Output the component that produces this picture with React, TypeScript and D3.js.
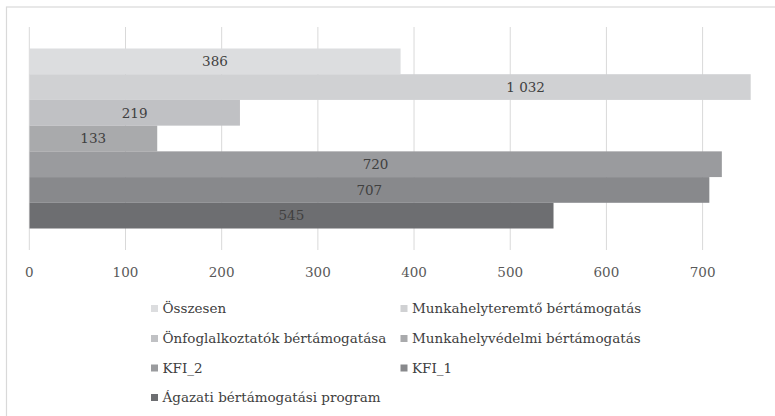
import React from "react";
import * as d3 from "d3";

const seriesNames = [
  "Összesen",
  "Munkahelyteremtő bértámogatás",
  "Önfoglalkoztatók bértámogatása",
  "Munkahelyvédelmi bértámogatás",
  "KFI_2",
  "KFI_1",
  "Ágazati bértámogatási program",
];
const seriesValues = [386, 1032, 219, 133, 720, 707, 545];
const valueLabels = ["386", "1 032", "219", "133", "720", "707", "545"];
const seriesColors = ["#dcdddf", "#d0d1d3", "#c0c1c4", "#a9aaac", "#9a9b9e", "#88898c", "#6d6e71"];
const xTicks = [0, 100, 200, 300, 400, 500, 600, 700];

const W = 775;
const H = 416;
const FONT = "'DejaVu Serif', serif";
const txtStyle = { fontFamily: FONT };
const FS = 13.5;

export default function App() {
  const x = d3.scaleLinear().domain([0, 750]).range([29.3, 750.7]);
  const y = d3
    .scaleBand<string>()
    .domain(seriesNames)
    .range([27, 250])
    .paddingInner(0)
    .paddingOuter(0.836);

  const legendCols = [151, 400.5];
  const legendRows = [308.5, 338.5, 368, 397.5];

  return (
    <svg
      width={W}
      height={H}
      style={{ position: "absolute", left: 0, top: 0, fontFamily: FONT }}
    >
      <rect x={0} y={0} width={W} height={H} fill="#ffffff" />
      <rect x={6.5} y={7} width={W + 10} height={H + 10} fill="#ffffff" stroke="#d9d9d9" strokeWidth={1.2} />
      <defs>
        <clipPath id="plotClip">
          <rect x={x(0)} y={0} width={x(750) - x(0)} height={H} />
        </clipPath>
      </defs>
      {xTicks.map((t) => (
        <line key={t} x1={x(t)} x2={x(t)} y1={27} y2={250} stroke="#d9d9d9" strokeWidth={1} />
      ))}
      <g clipPath="url(#plotClip)">
        {seriesNames.map((s, i) => (
          <rect
            key={s}
            x={x(0)}
            y={y(s)}
            width={x(seriesValues[i]) - x(0)}
            height={y.bandwidth()}
            fill={seriesColors[i]}
          />
        ))}
      </g>
      {seriesNames.map((s, i) => (
        <text
          key={s}
          x={(x(0) + x(seriesValues[i])) / 2}
          y={(y(s) as number) + y.bandwidth() / 2}
          dy="0.35em"
          textAnchor="middle"
          fontSize={FS}
          fill="#404040"
          style={txtStyle}
        >
          {valueLabels[i]}
        </text>
      ))}
      {xTicks.map((t) => (
        <text
          key={t}
          x={x(t)}
          y={272}
          dy="0.35em"
          textAnchor="middle"
          fontSize={FS}
          fill="#595959"
          style={txtStyle}
        >
          {t}
        </text>
      ))}
      {seriesNames.map((s, i) => {
        const col = i % 2;
        const row = Math.floor(i / 2);
        const lx = legendCols[col];
        const ly = legendRows[row];
        return (
          <g key={s}>
            <rect x={lx} y={ly - 3.5} width={7} height={7} fill={seriesColors[i]} />
            <text x={lx + 11.5} y={ly} dy="0.35em" fontSize={FS} fill="#404040" style={txtStyle}>
              {s}
            </text>
          </g>
        );
      })}
    </svg>
  );
}
